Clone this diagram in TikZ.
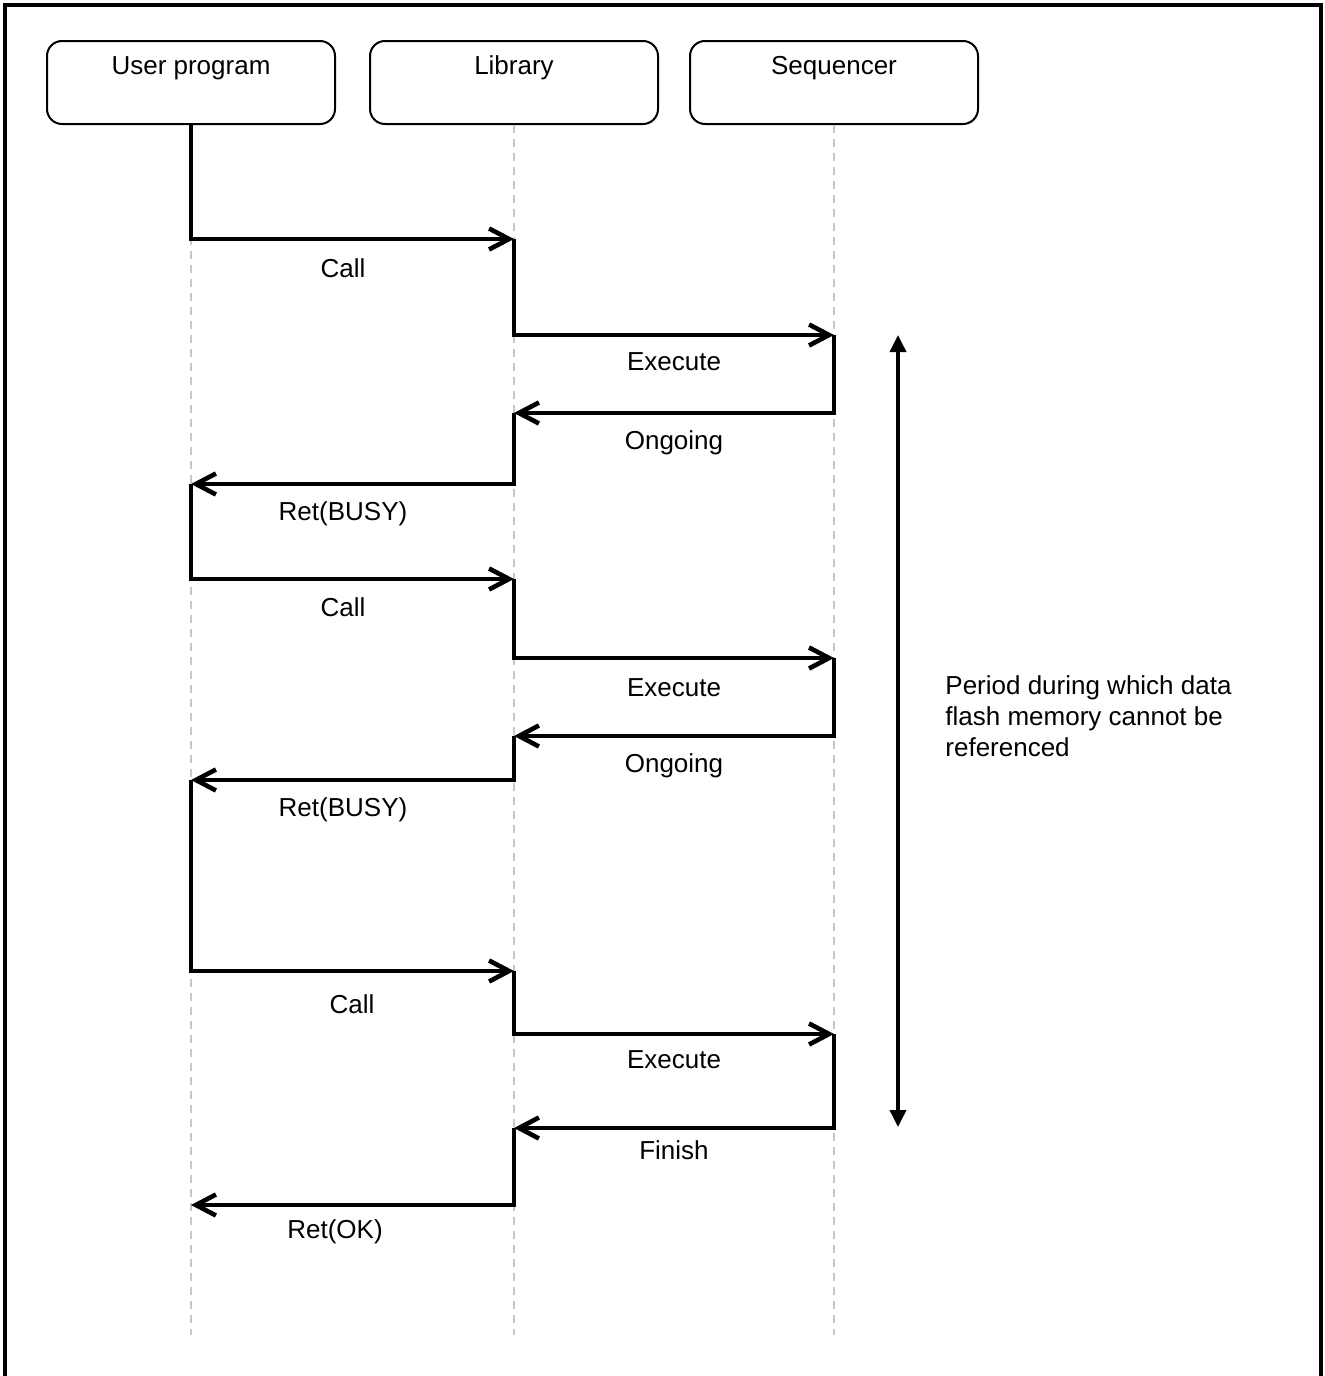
\documentclass[tikz,border=0pt]{standalone}
\usepackage{fontspec}
\setmainfont{Liberation Sans}
\usetikzlibrary{arrows.meta}
\begin{document}
\begin{tikzpicture}[x=0.5pt,y=-0.5pt,
  every node/.style={font=\fontsize{13}{15.5}\selectfont, inner sep=0pt},
  actor/.style={draw, line width=1pt, rounded corners=7.5pt, minimum width=144pt, minimum height=41.5pt},
  lifeline/.style={draw=black!22, line width=0.75pt, dash pattern=on 4pt off 3pt},
  msg/.style={line width=2.3pt, -{Straight Barb[length=10pt,width=10.5pt]}},
  lbl/.style={anchor=base},
  span/.style={line width=1.8pt, {Triangle[length=8.5pt,width=8pt]}-{Triangle[length=8.5pt,width=8pt]}}
]
\useasboundingbox (0,0) rectangle (1325,1376);
% frame
\draw[line width=1.7pt] (5,1376) -- (5,5) -- (1321,5) -- (1321,1376);

% actors
\node[actor] (U) at (191,82.5) {};
\node[actor] (L) at (514,82.5) {};
\node[actor] (S) at (834,82.5) {};
\node[anchor=base] (Ut) at (191,74) {User program};
\node[anchor=base] (Lt) at (514,74) {Library};
\node[anchor=base] (St) at (834,74) {Sequencer};

% lifelines
\coordinate (Uend) at (191,1335);
\coordinate (Lend) at (514,1335);
\coordinate (Send) at (834,1335);
\draw[lifeline] (U.south) -- (Uend);
\draw[lifeline] (L.south) -- (Lend);
\draw[lifeline] (S.south) -- (Send);

% message points
\coordinate (l1) at (514,239);
\coordinate (s2) at (834,335);
\coordinate (l3) at (514,413);
\coordinate (u4) at (191,484);
\coordinate (l5) at (514,579);
\coordinate (s6) at (834,658);
\coordinate (l7) at (514,736);
\coordinate (u8) at (191,780);
\coordinate (l9) at (514,971);
\coordinate (s10) at (834,1034);
\coordinate (l11) at (514,1128);
\coordinate (u12) at (191,1205);

\draw[msg] (U.south) |- (l1);
\draw[msg] (l1) |- (s2);
\draw[msg] (s2) |- (l3);
\draw[msg] (l3) |- (u4);
\draw[msg] (u4) |- (l5);
\draw[msg] (l5) |- (s6);
\draw[msg] (s6) |- (l7);
\draw[msg] (l7) |- (u8);
\draw[msg] (u8) |- (l9);
\draw[msg] (l9) |- (s10);
\draw[msg] (s10) |- (l11);
\draw[msg] (l11) |- (u12);

% labels
\node[lbl] (t1) at (343,277) {Call};
\node[lbl] (t2) at (674,370) {Execute};
\node[lbl] (t3) at (674,449) {Ongoing};
\node[lbl] (t4) at (343,520) {Ret(BUSY)};
\node[lbl] (t5) at (343,616) {Call};
\node[lbl] (t6) at (674,696) {Execute};
\node[lbl] (t7) at (674,772) {Ongoing};
\node[lbl] (t8) at (343,816) {Ret(BUSY)};
\node[lbl] (t9) at (352,1013) {Call};
\node[lbl] (t10) at (674,1068) {Execute};
\node[lbl] (t11) at (674,1159) {Finish};
\node[lbl] (t12) at (335,1238) {Ret(OK)};

% period
\coordinate (pTop) at (898,335);
\coordinate (pBot) at (898,1127);
\draw[span] (pTop) -- (pBot);
\node[anchor=north west, align=left] (note) at (945,675) {Period during which data\\flash memory cannot be\\referenced};
\end{tikzpicture}
\end{document}
